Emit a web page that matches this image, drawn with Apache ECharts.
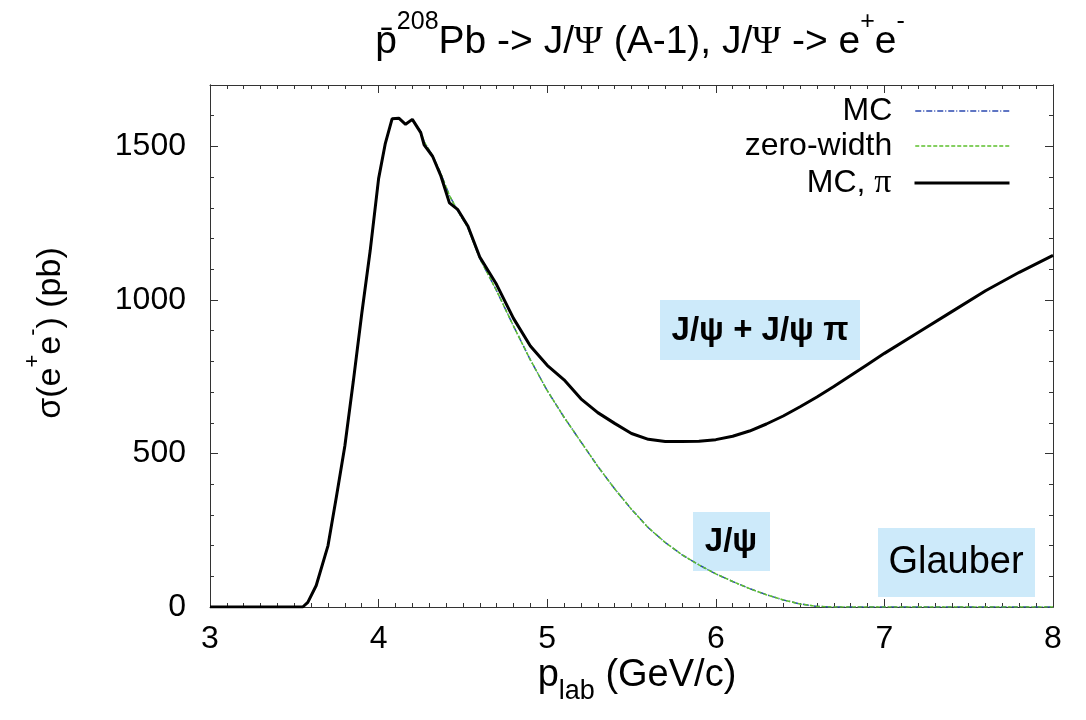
<!DOCTYPE html>
<html><head><meta charset="utf-8">
<script src="https://cdn.jsdelivr.net/npm/echarts@6/dist/echarts.min.js"></script>
<style>html,body{margin:0;padding:0;background:#fff}#c{width:1086px;height:720px}</style>
</head><body><div id="c"></div>
<script>
// p_lab (GeV/c)
const pLab = [3.0, 3.5, 3.55, 3.58, 3.63, 3.7, 3.75, 3.8, 3.85, 3.9, 3.95, 4.0, 4.04, 4.08, 4.12, 4.16, 4.2, 4.25, 4.27, 4.32, 4.37, 4.42, 4.47, 4.53, 4.6, 4.7, 4.8, 4.9, 5.0, 5.1, 5.2, 5.3, 5.4, 5.5, 5.6, 5.7, 5.8, 5.9, 6.0, 6.1, 6.2, 6.3, 6.4, 6.5, 6.6, 6.7, 6.8, 6.9, 7.0, 7.2, 7.4, 7.6, 7.8, 8.0];
// sigma (pb), MC with pi
const mcPi = [0, 0, 0, 15, 70, 200, 360, 525, 735, 955, 1160, 1395, 1510, 1590, 1592, 1572, 1588, 1545, 1505, 1468, 1403, 1316, 1294, 1240, 1140, 1050, 940, 850, 787, 740, 678, 633, 598, 565, 546, 539, 539, 540, 545, 556, 573, 596, 622, 652, 684, 718, 754, 790, 826, 894, 962, 1030, 1090, 1145];
// sigma (pb), MC
const mc = [0, 0, 0, 15, 70, 200, 360, 525, 735, 955, 1160, 1395, 1510, 1590, 1592, 1572, 1588, 1548, 1515, 1470, 1410, 1340, 1290, 1235, 1135, 1030, 915, 805, 705, 618, 538, 458, 385, 318, 258, 210, 170, 137, 108, 83, 60, 40, 23, 10, 2, 0, 0, 0, 0, 0, 0, 0, 0, 0];
// sigma (pb), zero-width
const zeroWidth = [0, 0, 0, 15, 70, 200, 360, 525, 735, 955, 1160, 1395, 1510, 1590, 1592, 1572, 1588, 1548, 1515, 1470, 1410, 1340, 1290, 1235, 1135, 1030, 915, 805, 705, 618, 538, 458, 385, 318, 258, 210, 170, 137, 108, 83, 60, 40, 23, 10, 2, 0, 0, 0, 0, 0, 0, 0, 0, 0];
const seriesNames = ['MC', 'zero-width', 'MC, π'];
const yLabelValues = [0, 500, 1000, 1500];

const FONT = 'Liberation Sans';
const chart = echarts.init(document.getElementById('c'), null, {renderer: 'canvas'});
const axisCol = '#333';
const blue = '#2a48b0', green = '#5cc02c';
const pair = arr => pLab.map((x, i) => [x, arr[i]]);

function xAx(pos, labels) {
  return {
    type: 'value', min: 3, max: 8, interval: 1, position: pos,
    axisLine: {show: true, onZero: false, lineStyle: {color: axisCol, width: 1}},
    axisTick: {show: true, inside: true, length: 8, lineStyle: {color: axisCol}},
    minorTick: {show: true, splitNumber: 10, length: 4, lineStyle: {color: axisCol}},
    axisLabel: {show: labels, margin: 16, fontSize: 32, color: '#000', fontFamily: FONT},
    splitLine: {show: false}, minorSplitLine: {show: false}
  };
}
function yAx(pos, interval, len, labels) {
  return {
    type: 'value', min: 0, max: 1700, interval: interval, position: pos,
    axisLine: {show: true, onZero: false, lineStyle: {color: axisCol, width: 1}},
    axisTick: {show: true, inside: true, length: len, lineStyle: {color: axisCol}},
    axisLabel: {show: labels, margin: 24, fontSize: 32, color: '#000', fontFamily: FONT,
      formatter: v => yLabelValues.indexOf(v) >= 0 ? String(v) : ''},
    splitLine: {show: false}
  };
}
function legendFor(name, top, ls, fmt) {
  return {
    data: [name], right: 75, top: top, orient: 'vertical', align: 'right',
    itemWidth: 95, itemHeight: 14, padding: 0, selectedMode: false,
    lineStyle: ls,
    itemStyle: {opacity: 0, borderWidth: 0},
    formatter: fmt,
    textStyle: {color: '#000', fontSize: 32, fontFamily: FONT,
      rich: {t: {fontSize: 32, fontFamily: FONT, lineHeight: 34},
             p: {fontSize: 34, fontFamily: 'Liberation Serif', lineHeight: 34},
             s: {width: 18}}}
  };
}

const option = {
  animation: false,
  backgroundColor: '#fff',
  grid: {left: 210, right: 33, top: 85, bottom: 113, containLabel: false},
  xAxis: [xAx('bottom', true), xAx('top', false)],
  yAxis: [yAx('left', 500, 8, true), yAx('left', 100, 4, false), yAx('right', 500, 8, false), yAx('right', 100, 4, false)],
  legend: [
    legendFor(seriesNames[0], 95, {color: blue, width: 1.5, type: [6, 2, 1, 2]}, n => '{t|' + n + '}{s|}'),
    legendFor(seriesNames[1], 130, {color: green, width: 1.5, type: [4, 2]}, n => '{t|' + n + '}{s|}'),
    legendFor(seriesNames[2], 166, {color: '#000', width: 3, type: 'solid'}, n => '{t|MC, }{p|π}{s|}')
  ],
  series: [
    {type: 'line', name: seriesNames[0], data: pair(mc), symbol: 'none', showSymbol: false, z: 2,
     lineStyle: {color: blue, width: 1.5, type: [6, 2, 1, 2]}, itemStyle: {color: blue}},
    {type: 'line', name: seriesNames[1], data: pair(zeroWidth), symbol: 'none', showSymbol: false, z: 3,
     lineStyle: {color: green, width: 1.5, type: [4, 2]}, itemStyle: {color: green}},
    {type: 'line', name: seriesNames[2], data: pair(mcPi), symbol: 'none', showSymbol: false, z: 4,
     lineStyle: {color: '#000', width: 3}, itemStyle: {color: '#000'}}
  ],
  graphic: [
    {type: 'text', x: 640, y: 36, z: 10, style: {
      text: '{n|p\u0304}{s|208}{n|Pb -> J/}{g|Ψ}{n| (A-1), J/}{g|Ψ}{n| -> e}{s|+}{n|e}{s|-}',
      align: 'center', verticalAlign: 'middle', fill: '#000',
      rich: {
        n: {fontSize: 39, fontFamily: FONT, lineHeight: 52, verticalAlign: 'bottom'},
        g: {fontSize: 39, fontFamily: 'Liberation Serif', lineHeight: 52, verticalAlign: 'bottom'},
        s: {fontSize: 25, fontFamily: FONT, lineHeight: 25, verticalAlign: 'top'}
      }}},
    {type: 'text', x: 637, y: 692, z: 10, style: {
      text: '{n|p}{b|lab}{n| (GeV/c)}',
      align: 'center', verticalAlign: 'middle', fill: '#000',
      rich: {
        n: {fontSize: 38, fontFamily: FONT, lineHeight: 38, verticalAlign: 'top'},
        b: {fontSize: 27, fontFamily: FONT, lineHeight: 70, verticalAlign: 'middle'}
      }}},
    {type: 'text', x: 45, y: 333, rotation: Math.PI / 2, z: 10, style: {
      text: '{n|σ(e}{s|+}{n|e}{s|-}{n|) (pb)}',
      align: 'center', verticalAlign: 'middle', fill: '#000',
      rich: {
        n: {fontSize: 34, fontFamily: FONT, lineHeight: 46, verticalAlign: 'bottom'},
        s: {fontSize: 22, fontFamily: FONT, lineHeight: 22, verticalAlign: 'top'}
      }}},
    {type: 'rect', shape: {x: 660, y: 300, width: 200, height: 60}, style: {fill: '#cdeafa'}, z: 1},
    {type: 'text', x: 760, y: 331, z: 10, style: {text: 'J/ψ + J/ψ π', font: 'bold 33px "Liberation Sans"',
      align: 'center', verticalAlign: 'middle', fill: '#000'}},
    {type: 'rect', shape: {x: 693, y: 512, width: 77, height: 59}, style: {fill: '#cdeafa'}, z: 1},
    {type: 'text', x: 731, y: 542, z: 10, style: {text: 'J/ψ', font: 'bold 33px "Liberation Sans"',
      align: 'center', verticalAlign: 'middle', fill: '#000'}},
    {type: 'rect', shape: {x: 878, y: 528, width: 157, height: 69}, style: {fill: '#cdeafa'}, z: 1},
    {type: 'text', x: 956, y: 563, z: 10, style: {text: 'Glauber', font: '38px "Liberation Sans"',
      align: 'center', verticalAlign: 'middle', fill: '#000'}}
  ]
};
chart.setOption(option);
</script>
</body></html>
